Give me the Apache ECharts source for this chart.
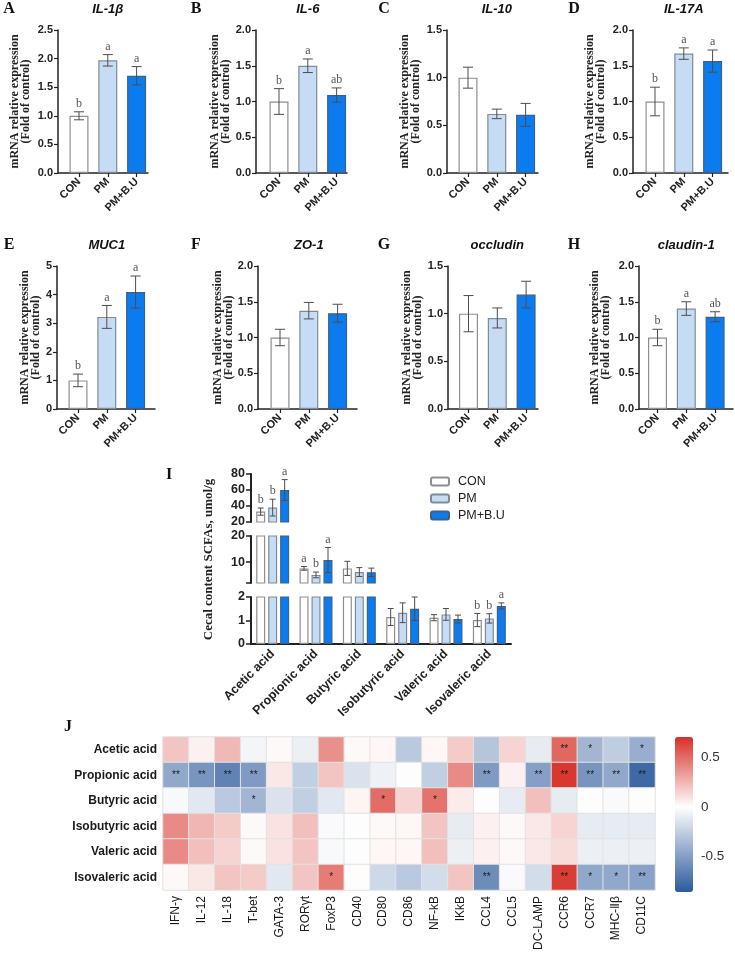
<!DOCTYPE html>
<html>
<head>
<meta charset="utf-8">
<script src="https://cdn.jsdelivr.net/npm/echarts@6/dist/echarts.min.js"></script>
<style>
  html, body { margin: 0; padding: 0; background: #fff; }
  #chart { width: 735px; height: 953px; }
</style>
</head>
<body>
<div id="chart"></div>
<script>
// ---- data ----
const groups = ['CON', 'PM', 'PM+B.U'];

// panels A-H: qPCR fold change
const geneTitles = ['IL-1β', 'IL-6', 'IL-10', 'IL-17A', 'MUC1', 'ZO-1', 'occludin', 'claudin-1'];
const geneMeans = [
  [1.0, 1.97, 1.70], [1.0, 1.50, 1.09], [1.0, 0.62, 0.61], [1.0, 1.67, 1.565],
  [1.0, 3.22, 4.09], [1.0, 1.375, 1.34], [1.0, 0.955, 1.20], [1.0, 1.405, 1.29]
];
const geneErrs = [
  [0.07, 0.10, 0.16], [0.18, 0.095, 0.10], [0.11, 0.05, 0.12], [0.20, 0.08, 0.155],
  [0.22, 0.40, 0.56], [0.115, 0.115, 0.125], [0.19, 0.105, 0.14], [0.115, 0.095, 0.07]
];
const geneLetters = [
  ['b', 'a', 'a'], ['b', 'a', 'ab'], ['', '', ''], ['b', 'a', 'a'],
  ['b', 'a', 'a'], ['', '', ''], ['', '', ''], ['b', 'a', 'ab']
];
const geneYMax = [2.5, 2.0, 1.5, 2.0, 5, 2.0, 1.5, 2.0];
const geneYStep = [0.5, 0.5, 0.5, 0.5, 1, 0.5, 0.5, 0.5];

// panel I: cecal SCFAs
const acids = ['Acetic acid', 'Propionic acid', 'Butyric acid', 'Isobutyric acid', 'Valeric acid', 'Isovaleric acid'];
const scfaCon = [33, 7.6, 7.6, 1.15, 1.12, 1.02];
const scfaPm = [38, 5.1, 6.2, 1.33, 1.26, 1.09];
const scfaPmbu = [60, 10.8, 6.1, 1.50, 1.06, 1.62];
const scfaErrCon = [4.5, 0.7, 2.7, 0.36, 0.13, 0.28];
const scfaErrPm = [10.5, 1.1, 1.7, 0.42, 0.25, 0.20];
const scfaErrPmbu = [13, 4.8, 1.6, 0.50, 0.17, 0.13];
const scfaLetCon = ['b', 'a', '', '', '', 'b'];
const scfaLetPm = ['b', 'b', '', '', '', 'b'];
const scfaLetPmbu = ['a', 'a', '', '', '', 'a'];
const scfaSegMin = [20, 2, 0];
const scfaSegMax = [80, 20, 2];
const scfaSegTicks = [[20, 40, 60, 80], [2, 10, 20], [0, 1, 2]];
const scfaSegLabels = [[20, 40, 60, 80], [10, 20], [0, 1, 2]];

// panel J: correlation heatmap
const heatRows = ['Acetic acid', 'Propionic acid', 'Butyric acid', 'Isobutyric acid', 'Valeric acid', 'Isovaleric acid'];
const heatCols = ['IFN-γ', 'IL-12', 'IL-18', 'T-bet', 'GATA-3', 'RORγt', 'FoxP3', 'CD40', 'CD80', 'CD86',
  'NF-kB', 'IKkB', 'CCL4', 'CCL5', 'DC-LAMP', 'CCR6', 'CCR7', 'MHC-Ⅱβ', 'CD11C'];
const heatAcetic = [0.20, 0.05, 0.24, -0.05, 0.02, -0.08, 0.38, 0.02, 0.03, -0.28, 0.03, 0.18, -0.30, 0.15, -0.10, 0.52, -0.38, -0.26, -0.42];
const heatPropionic = [-0.45, -0.55, -0.65, -0.52, 0.08, -0.25, 0.20, -0.15, -0.07, 0.00, -0.25, 0.40, -0.52, 0.05, -0.50, 0.68, -0.55, -0.45, -0.78];
const heatButyric = [-0.03, -0.12, -0.28, -0.38, -0.15, -0.25, -0.12, 0.04, 0.50, 0.15, 0.48, 0.07, 0.00, -0.10, 0.22, -0.10, 0.00, -0.02, 0.00];
const heatIsobutyric = [0.40, 0.25, 0.18, 0.02, 0.10, 0.22, -0.02, 0.00, 0.02, 0.03, 0.20, -0.10, 0.05, 0.02, 0.08, 0.15, -0.10, -0.10, -0.10];
const heatValeric = [0.40, 0.22, 0.15, 0.02, 0.10, 0.20, -0.03, 0.00, 0.03, 0.03, 0.22, -0.08, 0.05, 0.02, 0.08, 0.12, -0.08, -0.08, -0.08];
const heatIsovaleric = [0.02, 0.08, 0.20, 0.18, -0.12, 0.20, 0.45, 0.01, -0.20, -0.28, -0.18, 0.20, -0.60, -0.02, -0.18, 0.66, -0.45, -0.45, -0.48];
const heatValues = [heatAcetic, heatPropionic, heatButyric, heatIsobutyric, heatValeric, heatIsovaleric];
const sigAcetic = ['', '', '', '', '', '', '', '', '', '', '', '', '', '', '', '**', '*', '', '*'];
const sigPropionic = ['**', '**', '**', '**', '', '', '', '', '', '', '', '', '**', '', '**', '**', '**', '**', '**'];
const sigButyric = ['', '', '', '*', '', '', '', '', '*', '', '*', '', '', '', '', '', '', '', ''];
const sigIsobutyric = ['', '', '', '', '', '', '', '', '', '', '', '', '', '', '', '', '', '', ''];
const sigValeric = ['', '', '', '', '', '', '', '', '', '', '', '', '', '', '', '', '', '', ''];
const sigIsovaleric = ['', '', '', '', '', '', '*', '', '', '', '', '', '**', '', '', '**', '*', '*', '**'];
const heatSig = [sigAcetic, sigPropionic, sigButyric, sigIsobutyric, sigValeric, sigIsovaleric];
const colorMin = -0.86, colorMax = 0.71;
const colorTicks = [-0.5, 0, 0.5];

// ---- style / layout ----
const sans = "'Liberation Sans', Arial, sans-serif";
const serif = "'Liberation Serif', 'Times New Roman', serif";
const fills = ['#ffffff', '#c6dcf4', '#0b7cf0'];
const borders = ['#8f8f8f', '#7f8b98', '#3f5f85'];
const axisColor = '#222';
const errColor = '#4d4d4d';

// ax: y axis line x, c0: first bar centre, end: x axis end, gap: y-name offset
const geneBoxes = [
  { lx: 9, ax: 58, c0: 79, end: 148, top: 30, bottom: 173, gap: 26.5 },
  { lx: 196, ax: 256, c0: 279, end: 347, top: 30, bottom: 173, gap: 25 },
  { lx: 384, ax: 447, c0: 468, end: 538, top: 30, bottom: 173, gap: 26 },
  { lx: 574, ax: 633, c0: 655, end: 728, top: 30, bottom: 173, gap: 27 },
  { lx: 9, ax: 57, c0: 78, end: 155, top: 266, bottom: 409, gap: 16 },
  { lx: 196, ax: 258, c0: 280, end: 357, top: 266, bottom: 409, gap: 24 },
  { lx: 384, ax: 448, c0: 468.5, end: 538, top: 266, bottom: 409, gap: 25 },
  { lx: 574, ax: 639, c0: 657.5, end: 733, top: 266, bottom: 409, gap: 28 }
];
const panelLetters = ['A', 'B', 'C', 'D', 'E', 'F', 'G', 'H'];
const step = 28.8;

// error bar + significance letter renderer
function errRender(letters, dx, cap, letterFont, segMin, segMax) {
  return function (params, api) {
    const x = api.value(0), m = api.value(1), e = api.value(2);
    const hiVal = m + e;
    if (segMax !== undefined && (hiVal > segMax || (segMin > 0 && hiVal <= segMin))) return null;
    const loVal = segMin !== undefined ? Math.max(m - e, segMin) : m - e;
    const hi = api.coord([x, hiVal]);
    const lo = api.coord([x, loVal]);
    const cx = hi[0] + dx;
    const st = { stroke: errColor, lineWidth: 1 };
    const children = [
      { type: 'line', shape: { x1: cx, y1: hi[1], x2: cx, y2: lo[1] }, style: st },
      { type: 'line', shape: { x1: cx - cap, y1: hi[1], x2: cx + cap, y2: hi[1] }, style: st }
    ];
    if (segMin === undefined || m - e >= segMin) {
      children.push({ type: 'line', shape: { x1: cx - cap, y1: lo[1], x2: cx + cap, y2: lo[1] }, style: st });
    }
    const t = letters[params.dataIndex];
    if (t) {
      children.push({
        type: 'text', x: cx, y: hi[1] - 2,
        style: { text: t, font: letterFont, fill: '#555', align: 'center', verticalAlign: 'bottom' }
      });
    }
    return { type: 'group', children: children };
  };
}

const grid = [], xAxis = [], yAxis = [], series = [], graphic = [];

/* ================= A-H ================= */
geneTitles.forEach(function (title, p) {
  const b = geneBoxes[p];
  grid.push({ left: b.ax, top: b.top, width: b.end - b.ax, height: b.bottom - b.top });
  xAxis.push({
    gridIndex: p, type: 'value',
    min: -(b.c0 - b.ax) / step, max: (b.end - b.c0) / step,
    splitLine: { show: false },
    axisLine: { onZero: false, lineStyle: { color: axisColor, width: 1.5 } },
    axisTick: { customValues: [0, 1, 2], length: 4, lineStyle: { color: axisColor, width: 1.2 } },
    axisLabel: {
      customValues: [0, 1, 2], formatter: function (v) { return groups[Math.round(v)]; },
      rotate: 45, margin: 7, fontFamily: sans, fontWeight: 'bold', fontSize: 11, color: axisColor
    }
  });
  yAxis.push({
    gridIndex: p, type: 'value', min: 0, max: geneYMax[p], interval: geneYStep[p],
    splitLine: { show: false },
    axisLine: { show: true, onZero: false, lineStyle: { color: axisColor, width: 1.5 } },
    axisTick: { show: true, length: 4, lineStyle: { color: axisColor, width: 1.2 } },
    axisLabel: {
      margin: 5, fontFamily: sans, fontWeight: 'bold', fontSize: 11, color: axisColor,
      formatter: function (v) { return geneYStep[p] < 1 ? v.toFixed(1) : String(v); }
    },
    name: 'mRNA relative expression\n(Fold of control)',
    nameLocation: 'middle', nameGap: b.gap, nameMoveOverlap: false,
    nameTextStyle: { fontFamily: serif, fontWeight: 'bold', fontSize: 12, lineHeight: 11, color: axisColor }
  });
  series.push({
    type: 'bar', xAxisIndex: p, yAxisIndex: p, barWidth: 19, silent: true,
    data: groups.map(function (g, i) {
      return { value: [i, geneMeans[p][i]], itemStyle: { color: fills[i], borderColor: borders[i], borderWidth: 1.2 } };
    })
  });
  series.push({
    type: 'custom', xAxisIndex: p, yAxisIndex: p, silent: true, z: 5,
    renderItem: errRender(geneLetters[p], 0, 5, '12px ' + serif),
    data: groups.map(function (g, i) { return [i, geneMeans[p][i], geneErrs[p][i]]; })
  });
  graphic.push({
    type: 'text', x: b.lx, y: b.top - 21,
    style: { text: panelLetters[p], font: 'bold 16px ' + serif, fill: '#111', align: 'center', verticalAlign: 'middle' }
  });
  graphic.push({
    type: 'text', x: b.c0 + step, y: b.top - 21,
    style: { text: title, font: 'italic bold 13px ' + sans, fill: '#111', align: 'center', verticalAlign: 'middle' }
  });
});

/* ================= I ================= */
const scfaMeans = [scfaCon, scfaPm, scfaPmbu];
const scfaErrs = [scfaErrCon, scfaErrPm, scfaErrPmbu];
const scfaLets = [scfaLetCon, scfaLetPm, scfaLetPmbu];
const segTop = [474, 536, 597];
const segBottom = [522, 583, 644];
scfaSegMin.forEach(function (segMin, s) {
  const gi = grid.length;
  const isLast = s === scfaSegMin.length - 1;
  grid.push({ left: 251, top: segTop[s], width: 260, height: segBottom[s] - segTop[s] });
  xAxis.push({
    gridIndex: gi, type: 'category', data: acids, show: isLast,
    axisLine: { lineStyle: { color: axisColor, width: 2 } },
    axisTick: { alignWithLabel: true, length: 5, lineStyle: { color: axisColor, width: 1.5 } },
    axisLabel: { interval: 0, rotate: 45, margin: 8, fontFamily: sans, fontWeight: 'bold', fontSize: 12.5, color: axisColor }
  });
  yAxis.push({
    gridIndex: gi, type: 'value', min: segMin, max: scfaSegMax[s],
    splitLine: { show: false },
    axisLine: { show: true, lineStyle: { color: axisColor, width: 2 } },
    axisTick: { show: true, customValues: scfaSegTicks[s], length: 5, lineStyle: { color: axisColor, width: 1.5 } },
    axisLabel: { customValues: scfaSegLabels[s], margin: 6, fontFamily: sans, fontWeight: 'bold', fontSize: 12.5, color: axisColor },
    name: s === 1 ? 'Cecal content SCFAs, umol/g' : '',
    nameLocation: 'middle', nameGap: 36, nameMoveOverlap: false,
    nameTextStyle: { fontFamily: serif, fontWeight: 'bold', fontSize: 13, color: axisColor }
  });
  groups.forEach(function (g, k) {
    series.push({
      name: g, type: 'bar', xAxisIndex: gi, yAxisIndex: gi, barWidth: 9, barGap: '33%', clip: true,
      itemStyle: { color: fills[k], borderColor: borders[k], borderWidth: 1.2 },
      data: scfaMeans[k]
    });
  });
  groups.forEach(function (g, k) {
    series.push({
      type: 'custom', xAxisIndex: gi, yAxisIndex: gi, silent: true, z: 5,
      renderItem: errRender(scfaLets[k], (k - 1) * 12, 3, '12px ' + serif, segMin, scfaSegMax[s]),
      data: acids.map(function (a, i) { return [i, scfaMeans[k][i], scfaErrs[k][i]]; })
    });
  });
});
graphic.push({
  type: 'text', x: 169, y: 475,
  style: { text: 'I', font: 'bold 16px ' + serif, fill: '#111', align: 'center', verticalAlign: 'middle' }
});

/* ================= J ================= */
const heatGrid = grid.length;
grid.push({ left: 163, top: 737, width: 492, height: 155 });
xAxis.push({
  gridIndex: heatGrid, type: 'category', data: heatCols,
  axisLine: { show: false },
  axisTick: { alignWithLabel: true, length: 4, lineStyle: { color: '#bbb' } },
  axisLabel: { interval: 0, rotate: 90, margin: 6, fontFamily: sans, fontSize: 12, color: '#1a1a1a' }
});
yAxis.push({
  gridIndex: heatGrid, type: 'category', data: heatRows, inverse: true,
  axisLine: { show: false },
  axisTick: { alignWithLabel: true, length: 4, lineStyle: { color: '#bbb' } },
  axisLabel: { margin: 6, fontFamily: sans, fontWeight: 'bold', fontSize: 12, color: '#1a1a1a' }
});
const heatData = [];
heatValues.forEach(function (row, r) {
  row.forEach(function (v, c) { heatData.push([c, r, v]); });
});
const heatSeries = series.length;
series.push({
  type: 'heatmap', xAxisIndex: heatGrid, yAxisIndex: heatGrid, data: heatData,
  itemStyle: { borderColor: '#e2e2e2', borderWidth: 1 },
  label: {
    show: true, fontSize: 10, color: '#1a1a1a', fontFamily: sans,
    formatter: function (p) { return heatSig[p.value[1]][p.value[0]]; }
  },
  emphasis: { disabled: true }
});

// colour ramp: blue -> white at 0 -> red
const blueEnd = [44, 90, 156], redEnd = [214, 48, 39];
const ramp = [];
for (let i = 0; i <= 40; i++) {
  const v = colorMin + (colorMax - colorMin) * i / 40;
  const end = v < 0 ? blueEnd : redEnd;
  const t = v < 0 ? v / colorMin : v / colorMax;
  ramp.push('rgb(' + end.map(function (c) { return Math.round(255 + (c - 255) * t); }).join(',') + ')');
}

// axis carrying the colour bar labels
const barGrid = grid.length;
grid.push({ left: 675, top: 737, width: 18, height: 155 });
xAxis.push({ gridIndex: barGrid, type: 'value', show: false });
yAxis.push({
  gridIndex: barGrid, type: 'value', position: 'right', min: colorMin, max: colorMax, z: 10,
  splitLine: { show: false }, axisLine: { show: false },
  axisTick: { show: true, inside: true, customValues: colorTicks, length: 4, lineStyle: { color: '#fff', width: 1 } },
  axisLabel: {
    customValues: colorTicks, margin: 8, fontFamily: sans, fontSize: 13.5, color: '#333',
    formatter: function (v) { return String(v); }
  }
});
graphic.push({
  type: 'text', x: 68, y: 727,
  style: { text: 'J', font: 'bold 16px ' + serif, fill: '#111', align: 'center', verticalAlign: 'middle' }
});

const option = {
  animation: false,
  backgroundColor: '#fff',
  grid: grid,
  xAxis: xAxis,
  yAxis: yAxis,
  series: series,
  graphic: graphic,
  legend: {
    orient: 'vertical', left: 430, top: 475, padding: 0,
    itemWidth: 18, itemHeight: 8, itemGap: 4,
    data: groups,
    textStyle: { fontFamily: sans, fontSize: 12.5, color: '#222', padding: [0, 0, 0, 4] }
  },
  visualMap: {
    type: 'continuous', seriesIndex: heatSeries, dimension: 2,
    min: colorMin, max: colorMax, calculable: false, hoverLink: false,
    left: 675, top: 737, padding: 0, itemWidth: 18, itemHeight: 155,
    inRange: { color: ramp }
  }
};

const chart = echarts.init(document.getElementById('chart'));
chart.setOption(option);
</script>
</body>
</html>
